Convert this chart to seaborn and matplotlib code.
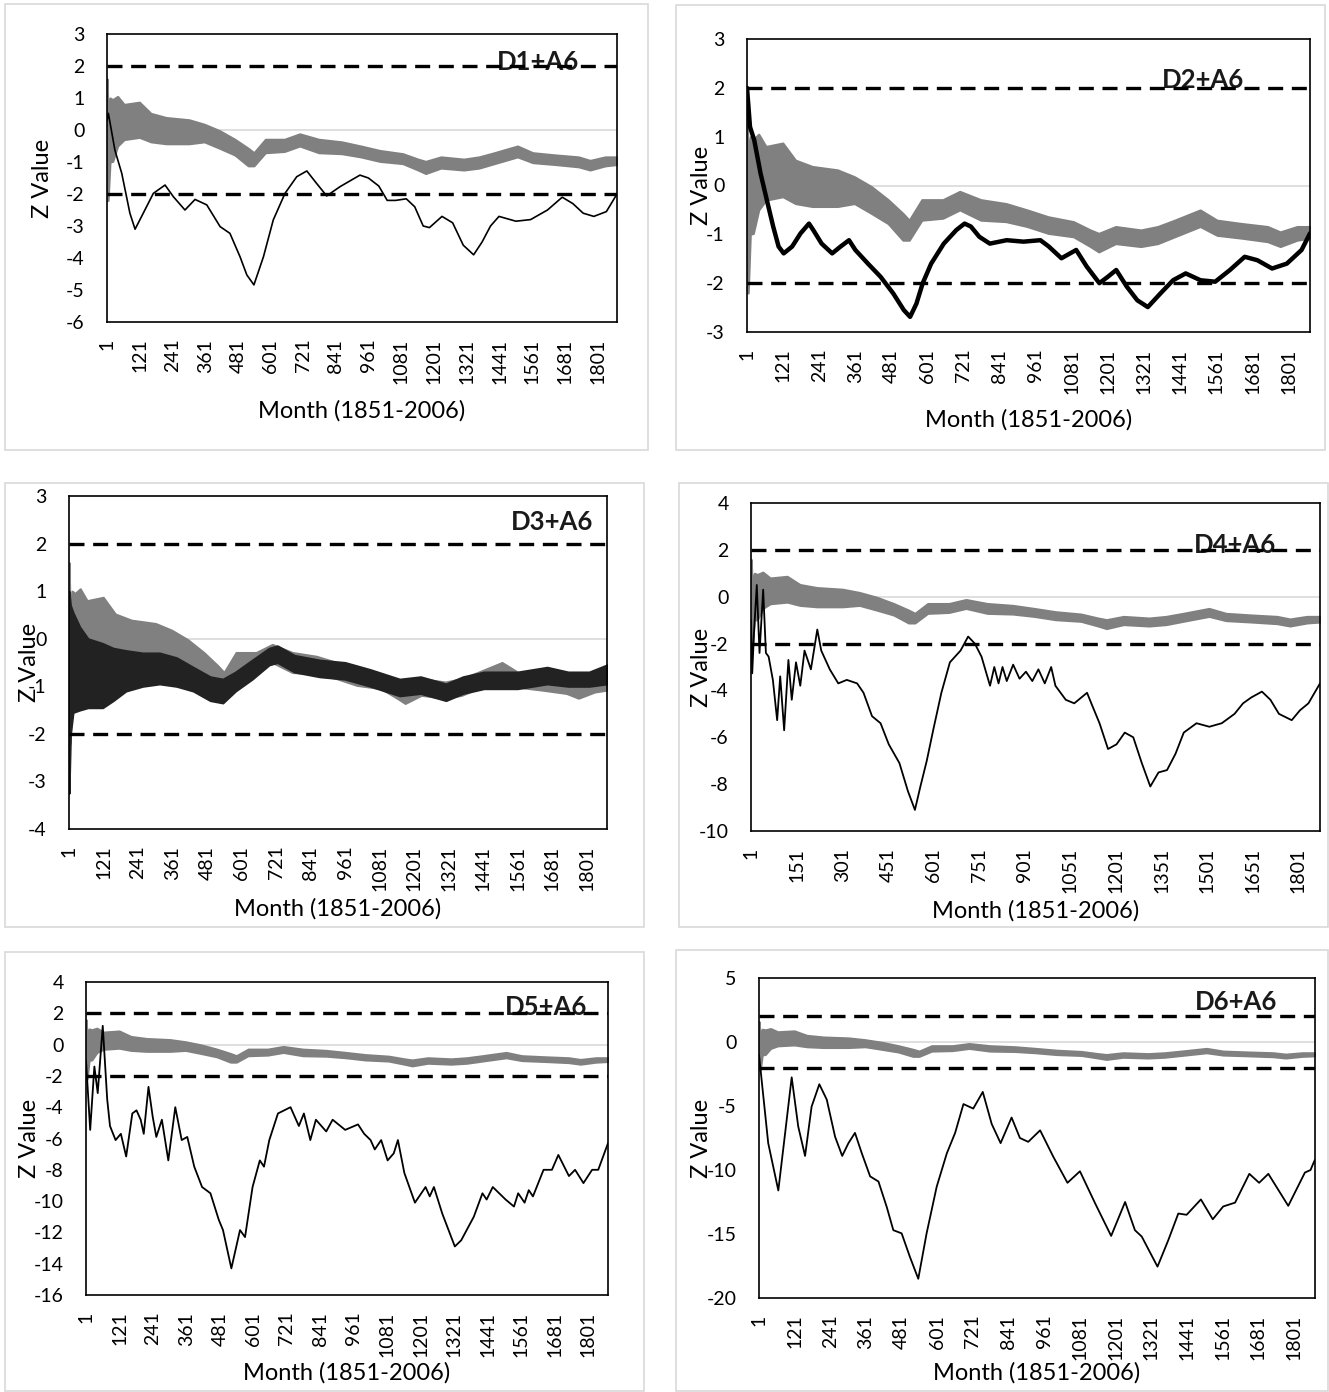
import numpy as np
import pandas as pd
import seaborn as sns
import matplotlib.pyplot as plt
from matplotlib.patches import Rectangle

# grey series (same in every panel), drawn as a band: upper / lower edge
grey_month = [1, 5, 12, 22, 40, 64, 120, 162, 218, 302, 358, 414, 470, 519, 540, 582, 652, 708,
              778, 862, 932, 1002, 1086, 1142, 1170, 1226, 1310, 1366, 1422, 1507, 1563, 1647,
              1731, 1773, 1829, 1872]
grey_hi = [1.6, 0.6, 1.0, 0.95, 1.05, 0.8, 0.87, 0.52, 0.39, 0.32, 0.18, -0.02, -0.29, -0.57, -0.71,
           -0.29, -0.29, -0.12, -0.29, -0.37, -0.5, -0.64, -0.74, -0.91, -0.98, -0.84, -0.91, -0.84,
           -0.71, -0.5, -0.71, -0.78, -0.84, -0.95, -0.84, -0.84]
grey_lo = [-2.2, -2.2, -1.0, -0.98, -0.5, -0.3, -0.23, -0.37, -0.43, -0.43, -0.37, -0.57, -0.78, -1.12,
           -1.12, -0.71, -0.67, -0.5, -0.71, -0.74, -0.84, -0.98, -1.05, -1.25, -1.36, -1.19, -1.25,
           -1.19, -1.05, -0.84, -1.02, -1.08, -1.15, -1.25, -1.12, -1.08]

# D1+A6
p1_month = [1, 6, 30, 55, 85, 104, 134, 171, 214, 244, 287, 324, 367, 416, 452, 489, 514, 540, 575,
            611, 654, 697, 734, 770, 807, 856, 929, 960, 998, 1029, 1060, 1099, 1130, 1161, 1184,
            1230, 1269, 1308, 1346, 1377, 1408, 1439, 1501, 1555, 1617, 1671, 1710, 1748, 1787, 1833,
            1872]
p1_z = [0.3, 0.52, -0.63, -1.35, -2.6, -3.1, -2.6, -1.98, -1.72, -2.08, -2.5, -2.17, -2.34, -3.02,
        -3.23, -3.96, -4.53, -4.84, -3.96, -2.81, -1.98, -1.46, -1.28, -1.67, -2.06, -1.77, -1.41,
        -1.5, -1.75, -2.2, -2.2, -2.15, -2.4, -3.0, -3.05, -2.7, -2.9, -3.6, -3.9, -3.5, -3.0, -2.7,
        -2.85, -2.8, -2.5, -2.1, -2.3, -2.6, -2.7, -2.55, -2.0]

# D2+A6
p2_month = [1, 11, 25, 46, 67, 88, 106, 123, 151, 179, 207, 221, 249, 284, 312, 340, 361, 403, 445,
            487, 522, 543, 564, 585, 613, 655, 697, 724, 745, 773, 808, 864, 920, 976, 1004, 1046,
            1095, 1130, 1172, 1200, 1228, 1263, 1298, 1333, 1375, 1417, 1459, 1508, 1557, 1606, 1655,
            1697, 1746, 1795, 1844, 1872]
p2_z = [2.0, 1.2, 0.93, 0.25, -0.3, -0.84, -1.25, -1.39, -1.25, -0.98, -0.78, -0.91, -1.19, -1.39,
        -1.25, -1.12, -1.32, -1.6, -1.87, -2.21, -2.55, -2.69, -2.42, -2.0, -1.6, -1.19, -0.91, -0.78,
        -0.84, -1.05, -1.19, -1.12, -1.15, -1.12, -1.25, -1.49, -1.32, -1.66, -2.0, -1.87, -1.73,
        -2.07, -2.35, -2.49, -2.21, -1.94, -1.8, -1.94, -1.97, -1.73, -1.46, -1.53, -1.7, -1.6,
        -1.32, -0.98]

# D3+A6 (oscillating band: upper / lower edge)
p3_month = [1, 6, 15, 38, 67, 118, 155, 199, 257, 316, 375, 433, 492, 536, 580, 638, 697, 726, 785,
            873, 961, 1049, 1151, 1224, 1312, 1371, 1444, 1561, 1664, 1737, 1810, 1872]
p3_hi = [1.0, 0.7, 0.55, 0.25, 0.0, -0.1, -0.2, -0.25, -0.3, -0.3, -0.4, -0.6, -0.8, -0.85, -0.7,
         -0.45, -0.2, -0.15, -0.35, -0.45, -0.5, -0.65, -0.85, -0.8, -0.95, -0.8, -0.7, -0.7, -0.6,
         -0.7, -0.7, -0.55]
p3_lo = [-3.25, -2.0, -1.55, -1.5, -1.45, -1.45, -1.3, -1.1, -1.0, -0.95, -1.0, -1.1, -1.3, -1.35,
         -1.1, -0.85, -0.55, -0.5, -0.7, -0.8, -0.85, -1.0, -1.2, -1.15, -1.3, -1.15, -1.05, -1.05,
         -0.95, -1.0, -1.0, -0.95]

# D4+A6
p4_month = [1, 5, 11, 20, 29, 41, 50, 59, 73, 87, 97, 110, 124, 135, 149, 163, 177, 198, 219, 232,
            260, 288, 316, 350, 371, 399, 427, 454, 489, 517, 540, 558, 579, 600, 627, 655, 690, 715,
            737, 759, 787, 801, 815, 828, 842, 863, 884, 905, 926, 946, 967, 988, 1002, 1036, 1064,
            1106, 1120, 1147, 1175, 1203, 1230, 1258, 1286, 1314, 1341, 1369, 1397, 1424, 1466, 1508,
            1549, 1591, 1619, 1646, 1681, 1709, 1737, 1779, 1806, 1834, 1872]
p4_z = [-1.0, -3.27, -1.5, 0.5, -2.4, 0.3, -2.4, -2.56, -3.56, -5.27, -3.4, -5.7, -2.7, -4.4, -2.8,
        -3.8, -2.3, -3.1, -1.4, -2.3, -3.1, -3.7, -3.55, -3.7, -4.1, -5.1, -5.4, -6.3, -7.1, -8.3,
        -9.1, -8.1, -7.0, -5.7, -4.1, -2.8, -2.3, -1.7, -2.0, -2.56, -3.8, -3.0, -3.7, -3.0, -3.6,
        -2.9, -3.5, -3.2, -3.6, -3.1, -3.7, -3.0, -3.8, -4.4, -4.55, -4.1, -4.55, -5.4, -6.5, -6.3,
        -5.8, -6.0, -7.1, -8.1, -7.5, -7.4, -6.7, -5.8, -5.4, -5.55, -5.4, -5.0, -4.55, -4.3, -4.05,
        -4.4, -5.0, -5.27, -4.85, -4.55, -3.7]

# D5+A6
p5_month = [1, 16, 31, 43, 61, 77, 87, 107, 126, 145, 167, 182, 197, 208, 225, 240, 253, 273, 296,
            321, 344, 364, 389, 417, 447, 477, 492, 522, 553, 571, 598, 624, 639, 658, 689, 734, 764,
            782, 805, 825, 862, 885, 930, 976, 998, 1021, 1036, 1059, 1082, 1104, 1119, 1142, 1180,
            1218, 1233, 1248, 1278, 1323, 1346, 1391, 1422, 1437, 1459, 1505, 1535, 1550, 1573, 1588,
            1603, 1641, 1671, 1694, 1732, 1754, 1784, 1815, 1837, 1872]
p5_z = [-1.0, -5.45, -1.4, -3.1, 1.2, -3.5, -5.2, -6.1, -5.7, -7.15, -4.4, -4.2, -4.8, -5.7, -2.7,
        -4.6, -5.9, -4.8, -7.4, -4.0, -6.1, -5.9, -7.8, -9.1, -9.5, -11.2, -11.85, -14.3, -11.85,
        -12.3, -9.1, -7.4, -7.8, -6.1, -4.4, -4.0, -5.2, -4.4, -6.1, -4.8, -5.55, -4.8, -5.45, -5.1,
        -5.7, -6.1, -6.7, -6.1, -7.4, -6.95, -6.1, -8.2, -10.1, -9.1, -9.7, -9.1, -10.8, -12.9,
        -12.5, -11.0, -9.5, -9.9, -9.1, -9.9, -10.35, -9.5, -10.1, -9.3, -9.7, -8.0, -8.0, -7.05,
        -8.4, -8.0, -8.85, -8.0, -8.0, -6.3]

# D6+A6
p6_month = [1, 32, 66, 89, 111, 133, 156, 178, 204, 229, 257, 281, 302, 324, 347, 375, 403, 431, 453,
            481, 509, 537, 565, 599, 633, 661, 689, 722, 754, 784, 814, 851, 879, 907, 947, 991, 1039,
            1081, 1132, 1186, 1233, 1266, 1289, 1342, 1378, 1412, 1440, 1488, 1528, 1563, 1603, 1651,
            1684, 1715, 1782, 1838, 1857, 1866, 1872]
p6_z = [-1.0, -7.9, -11.6, -7.1, -2.76, -6.6, -8.9, -5.05, -3.3, -4.5, -7.4, -8.9, -7.9, -7.1, -8.7,
        -10.5, -10.9, -12.9, -14.7, -14.95, -16.8, -18.5, -14.95, -11.3, -8.7, -7.1, -4.85, -5.2,
        -3.9, -6.4, -7.9, -5.9, -7.5, -7.8, -6.9, -8.95, -11.0, -10.1, -12.6, -15.15, -12.5, -14.7,
        -15.2, -17.55, -15.5, -13.4, -13.5, -12.3, -13.85, -12.85, -12.55, -10.3, -11.0, -10.3,
        -12.8, -10.2, -10.0, -9.5, -9.2]

sns.set_theme(style='white')
plt.rcParams['font.family'] = ['Lato', 'DejaVu Sans']
plt.rcParams['axes.unicode_minus'] = False

W, H = 1329, 1392
fig = plt.figure(figsize=(W / 100, H / 100), dpi=100)


def fig_rect(x0, y0, x1, y1):
    return [x0 / W, 1 - y1 / H, (x1 - x0) / W, (y1 - y0) / H]


# plot box, outer frame, y range, y step, x step, title pos, ylabel x, xlabel y
panels = [
    dict(title='D1+A6', box=(107, 34, 617, 322), frame=(5, 4, 648, 450), ylim=(-6, 3), ystep=1,
         xstep=120, tpos=(0.845, 0.903), ylx=-0.106, xly=-0.27,
         month=p1_month, z=p1_z, lw=1.2),
    dict(title='D2+A6', box=(747, 39, 1310, 332), frame=(676, 5, 1325, 450), ylim=(-3, 3), ystep=1,
         xstep=120, tpos=(0.81, 0.86), ylx=-0.062, xly=-0.262,
         month=p2_month, z=p2_z, lw=3.2),
    dict(title='D3+A6', box=(69, 496, 607, 829), frame=(5, 483, 644, 927), ylim=(-4, 3), ystep=1,
         xstep=120, tpos=(0.898, 0.922), ylx=-0.054, xly=-0.207,
         month=p3_month, hi=p3_hi, lo=p3_lo),
    dict(title='D4+A6', box=(751, 503, 1320, 831), frame=(679, 483, 1328, 927), ylim=(-10, 4), ystep=2,
         xstep=150, tpos=(0.851, 0.872), ylx=-0.0685, xly=-0.21,
         month=p4_month, z=p4_z, lw=1.3),
    dict(title='D5+A6', box=(86, 982, 608, 1295), frame=(5, 952, 644, 1391), ylim=(-16, 4), ystep=2,
         xstep=120, tpos=(0.881, 0.92), ylx=-0.088, xly=-0.214,
         month=p5_month, z=p5_z, lw=1.3),
    dict(title='D6+A6', box=(759, 978, 1315, 1298), frame=(676, 950, 1328, 1391), ylim=(-20, 5), ystep=5,
         xstep=120, tpos=(0.858, 0.925), ylx=-0.0845, xly=-0.2,
         month=p6_month, z=p6_z, lw=1.3),
]

for p in panels:
    fig.add_artist(Rectangle((p['frame'][0] / W, 1 - p['frame'][3] / H),
                             (p['frame'][2] - p['frame'][0]) / W,
                             (p['frame'][3] - p['frame'][1]) / H,
                             transform=fig.transFigure, fill=False, ec='#d9d9d9', lw=1.2))
    ax = fig.add_axes(fig_rect(*p['box']))

    ax.axhline(0, color='#d9d9d9', lw=1.2, zorder=1)
    ax.fill_between(grey_month, grey_lo, grey_hi, color='#808080', lw=1.5, ec='#808080', zorder=2)
    if 'hi' in p:
        ax.fill_between(p['month'], p['lo'], p['hi'], color='#222222', lw=1.5, ec='#222222', zorder=3)
    else:
        sns.lineplot(x=p['month'], y=p['z'], ax=ax, color='black', linewidth=p['lw'], zorder=3)

    ax.text(p['tpos'][0], p['tpos'][1], p['title'], transform=ax.transAxes, ha='center', va='center',
            fontsize=18.5, fontweight='bold', color='#1a1a1a', zorder=2)
    for lvl in (2, -2):
        ax.axhline(lvl, color='black', lw=2.4, dashes=(4.5, 2.6), zorder=4)

    ax.set_xlim(1, 1872)
    ax.set_ylim(*p['ylim'])
    ax.set_yticks(np.arange(p['ylim'][0], p['ylim'][1] + 0.1, p['ystep']))
    ax.set_xticks(np.arange(1, 1802, p['xstep']))
    ax.tick_params(axis='both', length=0, labelsize=14, colors='black')
    ax.tick_params(axis='y', pad=16)
    ax.tick_params(axis='x', pad=12, rotation=90)
    for s in ax.spines.values():
        s.set_color('black')
        s.set_linewidth(1.2)
        s.set_zorder(5)

    ax.set_ylabel('Z Value', fontsize=17, color='black')
    ax.set_xlabel('Month (1851-2006)', fontsize=17, color='black')
    ax.yaxis.set_label_coords(p['ylx'], 0.5)
    ax.xaxis.set_label_coords(0.5, p['xly'])

fig.savefig('out.png', dpi=100, facecolor='white')
